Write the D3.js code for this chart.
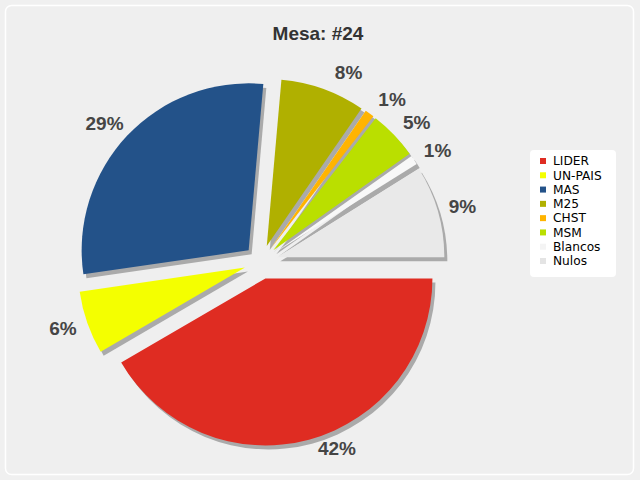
<!DOCTYPE html>
<html><head><meta charset="utf-8">
<script src="https://cdn.jsdelivr.net/npm/d3@7"></script>
<style>html,body{margin:0;padding:0;background:#f0f0f0;}svg{display:block;}</style>
</head><body>
<svg id="chart" width="640" height="480"></svg>
<script>
const title = "Mesa: #24";
const categories = ["LIDER", "UN-PAIS", "MAS", "M25", "CHST", "MSM", "Blancos", "Nulos"];
const values = [41.6, 6.1, 28.7, 8.2, 0.9, 4.7, 0.9, 8.9];
const colors = ["#df2c22", "#f4ff00", "#235289", "#b0b000", "#ffb400", "#badf00", "#f8f8f8", "#e9e9e9"];
const legendColors = ["#df2c22", "#f4ff00", "#235289", "#b0b000", "#ffb400", "#badf00", "#f4f4f4", "#e4e4e4"];

const svg = d3.select("#chart");
svg.append("rect").attr("x", 5.5).attr("y", 5.5).attr("width", 628).attr("height", 469)
  .attr("rx", 6).attr("fill", "#efefef").attr("stroke", "#ffffff").attr("stroke-width", 1.5);

svg.append("text").attr("x", 318).attr("y", 40).attr("text-anchor", "middle")
  .attr("font-family", "'Liberation Sans', Arial, sans-serif").attr("font-weight", "bold")
  .attr("font-size", 19).attr("fill", "#333").text(title);

const cx = 261, cy = 262, r = 167, explode = 17, labelR = 209, squash = 0.965;
const total = d3.sum(values);
const pie = d3.pie().sort(null).startAngle(Math.PI / 2).endAngle(Math.PI / 2 + 2 * Math.PI);
const arcs = pie(values);
const arc = d3.arc().innerRadius(0).outerRadius(r);
const mid = d => (d.startAngle + d.endAngle) / 2;

const g = svg.append("g").attr("transform", `translate(${cx},${cy})`);
// shadows
g.selectAll("path.shadow").data(arcs).join("path").attr("class", "shadow")
  .attr("d", arc).attr("fill", "#aaaaaa")
  .attr("transform", d => `translate(${explode * Math.sin(mid(d)) + 3},${-explode * Math.cos(mid(d)) + 4})`);
// slices
g.selectAll("path.slice").data(arcs).join("path").attr("class", "slice")
  .attr("d", arc).attr("fill", (d, i) => colors[i])
  .attr("transform", d => `translate(${explode * Math.sin(mid(d))},${-explode * Math.cos(mid(d))})`);

// labels: pushed slightly toward the horizontal axis, kept on a circle
function labelPos(d) {
  const a = mid(d);
  const s = -Math.cos(a) * squash;
  const c = Math.sign(Math.sin(a)) * Math.sqrt(1 - s * s);
  return [labelR * c, Math.min(labelR * s, 186)];
}
g.selectAll("text.lbl").data(arcs).join("text").attr("class", "lbl")
  .attr("x", d => labelPos(d)[0])
  .attr("y", d => labelPos(d)[1])
  .attr("dy", "0.35em").attr("text-anchor", "middle")
  .attr("font-family", "'Liberation Sans', Arial, sans-serif").attr("font-weight", "bold")
  .attr("font-size", 19).attr("fill", "#454545")
  .text(d => Math.round(d.data / total * 100) + "%");

// legend
const lg = svg.append("g");
lg.append("rect").attr("x", 530).attr("y", 150).attr("width", 86).attr("height", 127)
  .attr("rx", 4).attr("fill", "#ffffff");
const rowY = d3.scalePoint().domain(categories).range([161, 261]);
lg.selectAll("rect.mk").data(categories).join("rect").attr("class", "mk")
  .attr("x", 540).attr("y", d => rowY(d) - 3).attr("width", 6).attr("height", 6)
  .attr("fill", (d, i) => legendColors[i]);
lg.selectAll("text.lt").data(categories).join("text").attr("class", "lt")
  .attr("x", 553).attr("y", d => rowY(d)).attr("dy", "0.35em")
  .attr("font-family", "'DejaVu Sans', Verdana, sans-serif").attr("font-size", 12.2)
  .attr("fill", "#000").text(d => d);
</script>
</body></html>
